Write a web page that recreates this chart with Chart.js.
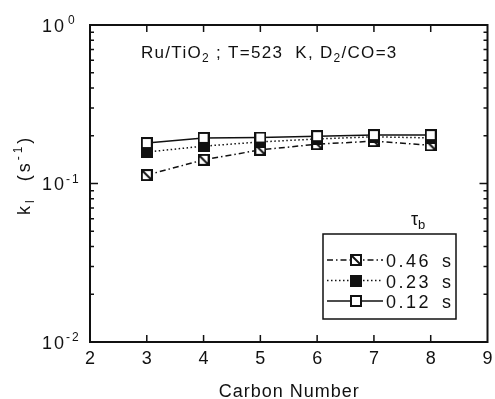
<!DOCTYPE html>
<html>
<head>
<meta charset="utf-8">
<script src="https://cdn.jsdelivr.net/npm/chart.js@4/dist/chart.umd.min.js"></script>
<style>
  html, body { margin: 0; padding: 0; background: #fff; }
  #wrap { width: 495px; height: 399px; }
</style>
</head>
<body>
<div id="wrap"><canvas id="chart"></canvas></div>
<script>
const carbonNumbers = [3, 4, 5, 6, 7, 8];
const k046 = [0.113, 0.141, 0.163, 0.177, 0.185, 0.174];
const k023 = [0.158, 0.172, 0.183, 0.191, 0.197, 0.194];
const k012 = [0.180, 0.194, 0.195, 0.199, 0.202, 0.202];
const seriesLabels = ['0.46', '0.23', '0.12'];
const xTicks = [2, 3, 4, 5, 6, 7, 8, 9];
const yDecades = [1, 0.1, 0.01];

const INK = '#111';
const FONT = '"Liberation Sans", Arial, sans-serif';

function marker(kind) {
    const c = document.createElement('canvas');
    c.width = 12; c.height = 12;
    const g = c.getContext('2d');
    g.fillStyle = kind === 'filled' ? INK : '#fff';
    g.fillRect(1, 1, 10, 10);
    g.strokeStyle = INK;
    g.lineWidth = 2;
    g.strokeRect(1, 1, 10, 10);
    if (kind === 'hatched') {
        g.beginPath(); g.moveTo(2, 2); g.lineTo(10, 10); g.stroke();
    }
    return c;
}

const styles = [
    { data: k046, dash: [6, 3, 1.5, 3], point: marker('hatched') },
    { data: k023, dash: [1.5, 2.5], point: marker('filled') },
    { data: k012, dash: [], point: marker('open') },
];

// parts = [[text, size, dy], ...], drawn left to right from x
function richText(ctx, parts, x, y, spacing) {
    let cx = x;
    ctx.letterSpacing = (spacing || 0) + 'px';
    parts.forEach(([t, size, dy]) => {
        ctx.font = `${size}px ${FONT}`;
        ctx.fillText(t, cx, y + (dy || 0));
        cx += ctx.measureText(t).width;
    });
    ctx.letterSpacing = '0px';
    return cx - x;
}

function centeredText(ctx, text, x, y, size, spacing) {
    ctx.font = `${size}px ${FONT}`;
    ctx.letterSpacing = spacing + 'px';
    const w = ctx.measureText(text).width - spacing;
    ctx.fillText(text, x - w / 2, y);
    ctx.letterSpacing = '0px';
}

const framePlugin = {
    id: 'frame',
    afterDraw(chart) {
        const { ctx, chartArea: a, scales } = chart;
        const xs = scales.x, ys = scales.y;
        ctx.save();
        ctx.strokeStyle = INK;
        ctx.fillStyle = INK;
        ctx.textAlign = 'left';
        ctx.textBaseline = 'alphabetic';
        ctx.lineWidth = 2;
        ctx.strokeRect(a.left, a.top, a.right - a.left, a.bottom - a.top);

        // inward ticks
        ctx.lineWidth = 1.5;
        ctx.beginPath();
        xTicks.slice(1, -1).forEach(v => {
            const px = xs.getPixelForValue(v);
            ctx.moveTo(px, a.bottom); ctx.lineTo(px, a.bottom - 7);
            ctx.moveTo(px, a.top); ctx.lineTo(px, a.top + 7);
        });
        [0.01, 0.1].forEach(d => {
            for (let m = 1; m <= 9; m++) {
                const py = ys.getPixelForValue(d * m);
                const len = m === 1 ? 8 : 4;
                ctx.moveTo(a.left, py); ctx.lineTo(a.left + len, py);
                ctx.moveTo(a.right, py); ctx.lineTo(a.right - len, py);
            }
        });
        ctx.stroke();

        // x tick labels and title
        xTicks.forEach(v => centeredText(ctx, String(v), xs.getPixelForValue(v), 364, 18, 0));
        centeredText(ctx, 'Carbon Number', (a.left + a.right) / 2, 397, 18, 1);

        // y tick labels
        yDecades.forEach(v => {
            const py = ys.getPixelForValue(v);
            const exp = Math.round(Math.log10(v));
            richText(ctx, [['10', 18, 0]], 42, py + 6.5, 2);
            richText(ctx, [[exp < 0 ? '-' + (-exp) : String(exp), 12, 0]], exp < 0 ? 66 : 68, py - 1, 2);
        });

        // y title (rotated)
        ctx.save();
        ctx.translate(30, 215);
        ctx.rotate(-Math.PI / 2);
        richText(ctx, [['k', 18, 0], ['l', 12, 4], ['  (s', 18, 0], ['-1', 12, -8], [')', 18, 0]], 0, 0, 3);
        ctx.restore();

        // annotation
        richText(ctx, [['Ru/TiO', 17, 0], ['2', 12, 4], [' ; T=523  K, D', 17, 0], ['2', 12, 4], ['/CO=3', 17, 0]], 141, 58, 1.3);

        // legend
        ctx.lineWidth = 1.5;
        ctx.strokeRect(323, 234, 133, 85);
        richText(ctx, [['\u03c4', 18, 0], ['b', 13, 4]], 411, 225, 0);
        styles.forEach((s, i) => {
            const ly = 260 + i * 20.5;
            ctx.setLineDash(s.dash);
            ctx.lineWidth = 1.5;
            ctx.beginPath();
            ctx.moveTo(327, ly); ctx.lineTo(383, ly);
            ctx.stroke();
            ctx.setLineDash([]);
            ctx.drawImage(s.point, 350, ly - 6);
            richText(ctx, [[seriesLabels[i], 18, 0]], 386, ly + 7, 2.5);
            richText(ctx, [['s', 18, 0]], 442, ly + 7, 0);
        });
        ctx.restore();
    }
};

new Chart(document.getElementById('chart'), {
    type: 'line',
    data: {
        datasets: styles.map((s, i) => ({
            label: seriesLabels[i] + ' s',
            data: carbonNumbers.map((c, j) => ({ x: c, y: s.data[j] })),
            borderColor: INK,
            borderWidth: 1.5,
            borderDash: s.dash,
            pointStyle: s.point,
            pointRadius: 6,
            backgroundColor: INK,
            tension: 0,
            order: 3 - i,
        }))
    },
    options: {
        responsive: true,
        maintainAspectRatio: false,
        animation: false,
        layout: { padding: { left: 90, right: 6, top: 25, bottom: 57 } },
        plugins: {
            legend: { display: false },
            tooltip: { enabled: false },
        },
        scales: {
            x: { type: 'linear', min: 2, max: 9, display: false },
            y: { type: 'logarithmic', min: 0.01, max: 1, display: false }
        }
    },
    plugins: [framePlugin]
});
</script>
</body>
</html>
